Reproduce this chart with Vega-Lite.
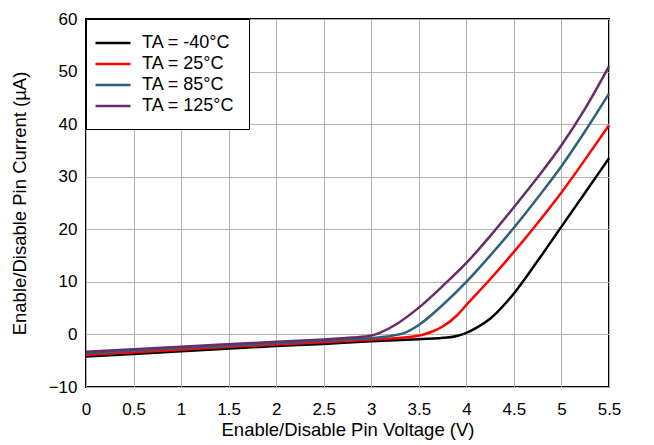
{
  "$schema": "https://vega.github.io/schema/vega-lite/v6.json",
  "autosize": "none",
  "width": 523,
  "height": 368,
  "padding": {"left": 86, "top": 19, "right": 45, "bottom": 58},
  "background": "white",
  "config": {
    "font": "Liberation Sans",
    "view": {"stroke": "black", "strokeWidth": 2},
    "axis": {"labelFont": "Liberation Sans", "titleFont": "Liberation Sans", "labelFontSize": 17, "titleFontSize": 18.5, "titleFontWeight": "normal", "labelColor": "black", "titleColor": "black", "gridColor": "#b4b4b4", "gridWidth": 1, "gridOpacity": 1, "domain": false, "ticks": false, "tickSize": 0},
    "legend": {"labelFont": "Liberation Sans", "labelFontSize": 18, "labelColor": "black"}
  },
  "data": {"values": [
    {"v": 0, "i": -4.2, "t": "TA = -40°C"},
    {"v": 1, "i": -3.2, "t": "TA = -40°C"},
    {"v": 2, "i": -2.2, "t": "TA = -40°C"},
    {"v": 2.5, "i": -1.8, "t": "TA = -40°C"},
    {"v": 3, "i": -1.3, "t": "TA = -40°C"},
    {"v": 3.5, "i": -0.9, "t": "TA = -40°C"},
    {"v": 3.8, "i": -0.6, "t": "TA = -40°C"},
    {"v": 3.9, "i": -0.3, "t": "TA = -40°C"},
    {"v": 4.0, "i": 0.3, "t": "TA = -40°C"},
    {"v": 4.1, "i": 1.2, "t": "TA = -40°C"},
    {"v": 4.25, "i": 3.0, "t": "TA = -40°C"},
    {"v": 4.5, "i": 7.8, "t": "TA = -40°C"},
    {"v": 4.75, "i": 14.0, "t": "TA = -40°C"},
    {"v": 5.0, "i": 20.5, "t": "TA = -40°C"},
    {"v": 5.25, "i": 27.0, "t": "TA = -40°C"},
    {"v": 5.5, "i": 33.5, "t": "TA = -40°C"},

    {"v": 0, "i": -3.9, "t": "TA = 25°C"},
    {"v": 1, "i": -2.9, "t": "TA = 25°C"},
    {"v": 2, "i": -1.9, "t": "TA = 25°C"},
    {"v": 2.5, "i": -1.5, "t": "TA = 25°C"},
    {"v": 3, "i": -1.0, "t": "TA = 25°C"},
    {"v": 3.4, "i": -0.5, "t": "TA = 25°C"},
    {"v": 3.55, "i": 0.0, "t": "TA = 25°C"},
    {"v": 3.65, "i": 0.6, "t": "TA = 25°C"},
    {"v": 3.75, "i": 1.5, "t": "TA = 25°C"},
    {"v": 3.9, "i": 3.6, "t": "TA = 25°C"},
    {"v": 4.0, "i": 5.6, "t": "TA = 25°C"},
    {"v": 4.25, "i": 10.5, "t": "TA = 25°C"},
    {"v": 4.5, "i": 15.7, "t": "TA = 25°C"},
    {"v": 4.75, "i": 21.2, "t": "TA = 25°C"},
    {"v": 5.0, "i": 27.0, "t": "TA = 25°C"},
    {"v": 5.25, "i": 33.3, "t": "TA = 25°C"},
    {"v": 5.5, "i": 39.8, "t": "TA = 25°C"},

    {"v": 0, "i": -3.6, "t": "TA = 85°C"},
    {"v": 1, "i": -2.6, "t": "TA = 85°C"},
    {"v": 2, "i": -1.65, "t": "TA = 85°C"},
    {"v": 2.5, "i": -1.2, "t": "TA = 85°C"},
    {"v": 3.0, "i": -0.7, "t": "TA = 85°C"},
    {"v": 3.2, "i": -0.3, "t": "TA = 85°C"},
    {"v": 3.35, "i": 0.3, "t": "TA = 85°C"},
    {"v": 3.5, "i": 1.8, "t": "TA = 85°C"},
    {"v": 3.75, "i": 5.6, "t": "TA = 85°C"},
    {"v": 4.0, "i": 10.0, "t": "TA = 85°C"},
    {"v": 4.25, "i": 15.0, "t": "TA = 85°C"},
    {"v": 4.5, "i": 20.3, "t": "TA = 85°C"},
    {"v": 4.75, "i": 26.0, "t": "TA = 85°C"},
    {"v": 5.0, "i": 32.0, "t": "TA = 85°C"},
    {"v": 5.25, "i": 38.7, "t": "TA = 85°C"},
    {"v": 5.5, "i": 45.8, "t": "TA = 85°C"},

    {"v": 0, "i": -3.3, "t": "TA = 125°C"},
    {"v": 1, "i": -2.35, "t": "TA = 125°C"},
    {"v": 2, "i": -1.4, "t": "TA = 125°C"},
    {"v": 2.5, "i": -0.95, "t": "TA = 125°C"},
    {"v": 2.8, "i": -0.6, "t": "TA = 125°C"},
    {"v": 3.0, "i": -0.2, "t": "TA = 125°C"},
    {"v": 3.1, "i": 0.4, "t": "TA = 125°C"},
    {"v": 3.25, "i": 1.8, "t": "TA = 125°C"},
    {"v": 3.5, "i": 5.1, "t": "TA = 125°C"},
    {"v": 3.75, "i": 9.2, "t": "TA = 125°C"},
    {"v": 4.0, "i": 13.6, "t": "TA = 125°C"},
    {"v": 4.25, "i": 18.7, "t": "TA = 125°C"},
    {"v": 4.5, "i": 24.2, "t": "TA = 125°C"},
    {"v": 4.75, "i": 29.9, "t": "TA = 125°C"},
    {"v": 5.0, "i": 36.0, "t": "TA = 125°C"},
    {"v": 5.25, "i": 43.0, "t": "TA = 125°C"},
    {"v": 5.5, "i": 51.0, "t": "TA = 125°C"}
  ]},
  "mark": {"type": "line", "strokeWidth": 2.5, "interpolate": "monotone"},
  "encoding": {
    "x": {"field": "v", "type": "quantitative", "title": "Enable/Disable Pin Voltage (V)",
      "scale": {"domain": [0, 5.5], "nice": false},
      "axis": {"values": [0, 0.5, 1, 1.5, 2, 2.5, 3, 3.5, 4, 4.5, 5, 5.5], "format": "~g", "labelPadding": 14, "titlePadding": 3, "labelFlush": false, "labelOverlap": false}},
    "y": {"field": "i", "type": "quantitative", "title": "Enable/Disable Pin Current (µA)",
      "scale": {"domain": [-10, 60], "nice": false},
      "axis": {"values": [-10, 0, 10, 20, 30, 40, 50, 60], "labelPadding": 9, "titlePadding": 19, "labelFlush": false}},
    "color": {"field": "t", "type": "nominal",
      "scale": {"domain": ["TA = -40°C", "TA = 25°C", "TA = 85°C", "TA = 125°C"], "range": ["#000000", "#ff0000", "#2f6079", "#6a2c68"]},
      "legend": {"title": null, "orient": "top-left", "offset": 0, "padding": 14, "strokeColor": "black", "fillColor": "white", "symbolType": "M-2,0L2,0", "symbolSize": 306, "symbolStrokeWidth": 2.5, "symbolOffset": 3, "rowPadding": 2, "labelOffset": 19, "labelLimit": 200}}
  }
}
